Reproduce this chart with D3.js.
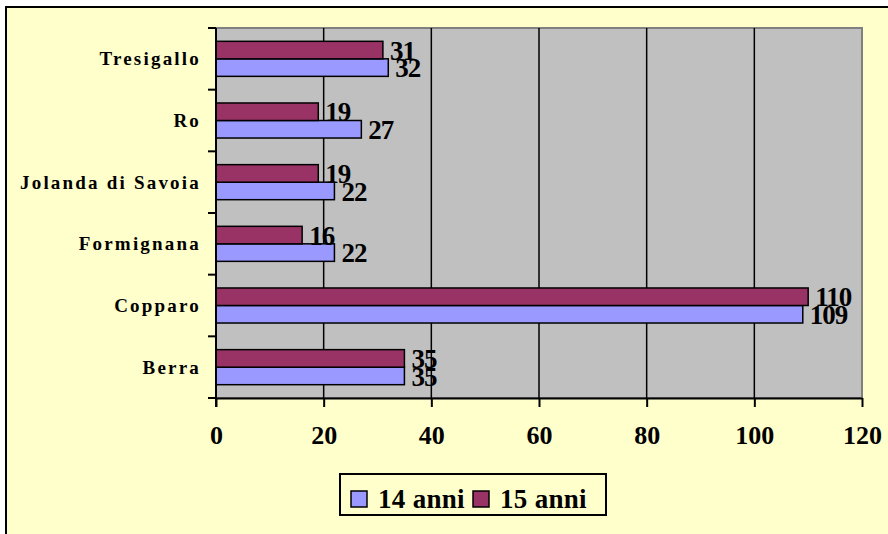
<!DOCTYPE html>
<html><head><meta charset="utf-8">
<script src="https://cdn.jsdelivr.net/npm/d3@7"></script>
<style>
html,body{margin:0;padding:0;background:#fff;}
svg{display:block;}
text{font-family:"Liberation Serif","Times New Roman",serif;font-weight:bold;fill:#000;}
</style></head><body>
<svg id="chart" width="888" height="534"></svg>
<script>
const categories = ["Berra","Copparo","Formignana","Jolanda di Savoia","Ro","Tresigallo"];
const seriesNames = ["14 anni","15 anni"];
const values14 = [35,109,22,22,27,32];
const values15 = [35,110,16,19,19,31];
const xTicks = [0,20,40,60,80,100,120];
const colors = ["#9999FF","#993366"];

const svg = d3.select("#chart");
svg.append("rect").attr("x",0).attr("y",0).attr("width",888).attr("height",534).attr("fill","#fff");
svg.append("rect").attr("x",6).attr("y",7).attr("width",900).attr("height",550)
  .attr("fill","#FFFFCC").attr("stroke","#000").attr("stroke-width",2);

const L=216, R=862, T=28, B=398;
const x = d3.scaleLinear().domain([0,120]).range([L,R]);
const y = d3.scaleBand().domain(categories.slice().reverse()).range([T,B]).paddingInner(0).paddingOuter(0);
const inner = d3.scaleBand().domain(["15 anni","14 anni"]).range([0,y.bandwidth()]).paddingInner(0).paddingOuter(0.76);

svg.append("rect").attr("x",L).attr("y",T).attr("width",R-L).attr("height",B-T)
  .attr("fill","#C0C0C0").attr("stroke","#808080").attr("stroke-width",2);

svg.append("g").selectAll("line").data(xTicks.filter(d=>d>0 && d<120)).join("line")
  .attr("x1",d=>x(d)).attr("x2",d=>x(d)).attr("y1",T).attr("y2",B)
  .attr("stroke","#000").attr("stroke-width",1.5);

const rows = categories.map((c,i)=>({cat:c, v14:values14[i], v15:values15[i]}));
const series = [
  {name:seriesNames[0], key:"v14", color:colors[0]},
  {name:seriesNames[1], key:"v15", color:colors[1]}
];
series.forEach(s=>{
  const g = svg.append("g");
  g.selectAll("rect").data(rows).join("rect")
    .attr("x",x(0)).attr("y",d=>y(d.cat)+inner(s.name))
    .attr("width",d=>x(d[s.key])-x(0)).attr("height",inner.bandwidth())
    .attr("fill",s.color).attr("stroke","#000").attr("stroke-width",1.5);
  g.selectAll("text").data(rows).join("text")
    .attr("x",d=>x(d[s.key])+7).attr("y",d=>y(d.cat)+inner(s.name)+inner.bandwidth()/2)
    .attr("dy","0.36em").attr("font-size",27).attr("letter-spacing",-1)
    .text(d=>d[s.key]);
});

const xAxis = d3.axisBottom(x).tickValues(xTicks).tickSize(9).tickSizeOuter(0);
const gx = svg.append("g").attr("transform",`translate(0,${B})`).call(xAxis);
gx.select(".domain").attr("stroke","#000").attr("stroke-width",2);
gx.selectAll(".tick line").attr("stroke","#000").attr("stroke-width",2);
gx.selectAll(".tick text").attr("font-size",26).attr("font-family","Liberation Serif")
  .attr("font-weight","bold").attr("fill","#000").attr("y",28).attr("dy","0.71em");

const yTickVals = d3.range(categories.length+1).map(i=>T+i*y.step());
svg.append("line").attr("x1",L).attr("x2",L).attr("y1",T).attr("y2",B+9).attr("stroke","#000").attr("stroke-width",2);
svg.append("g").selectAll("line").data(yTickVals).join("line")
  .attr("x1",L-8).attr("x2",L).attr("y1",d=>d).attr("y2",d=>d).attr("stroke","#000").attr("stroke-width",2);
svg.append("g").selectAll("text").data(categories).join("text")
  .attr("x",L-15).attr("y",d=>y(d)+y.bandwidth()/2).attr("dy","0.35em")
  .attr("text-anchor","end").attr("font-size",19).attr("letter-spacing",2.2)
  .text(d=>d);

const lg = svg.append("g");
lg.append("rect").attr("x",340).attr("y",474).attr("width",266).attr("height",41)
  .attr("fill","#FFFFCC").attr("stroke","#000").attr("stroke-width",2);
const legX = [351, 473];
series.forEach((s,i)=>{
  lg.append("rect").attr("x",legX[i]).attr("y",491).attr("width",16).attr("height",16)
    .attr("fill",s.color).attr("stroke","#000").attr("stroke-width",1.5);
  lg.append("text").attr("x",legX[i]+27).attr("y",508).attr("font-size",27).attr("letter-spacing",0.3).text(s.name);
});
</script>
</body></html>
